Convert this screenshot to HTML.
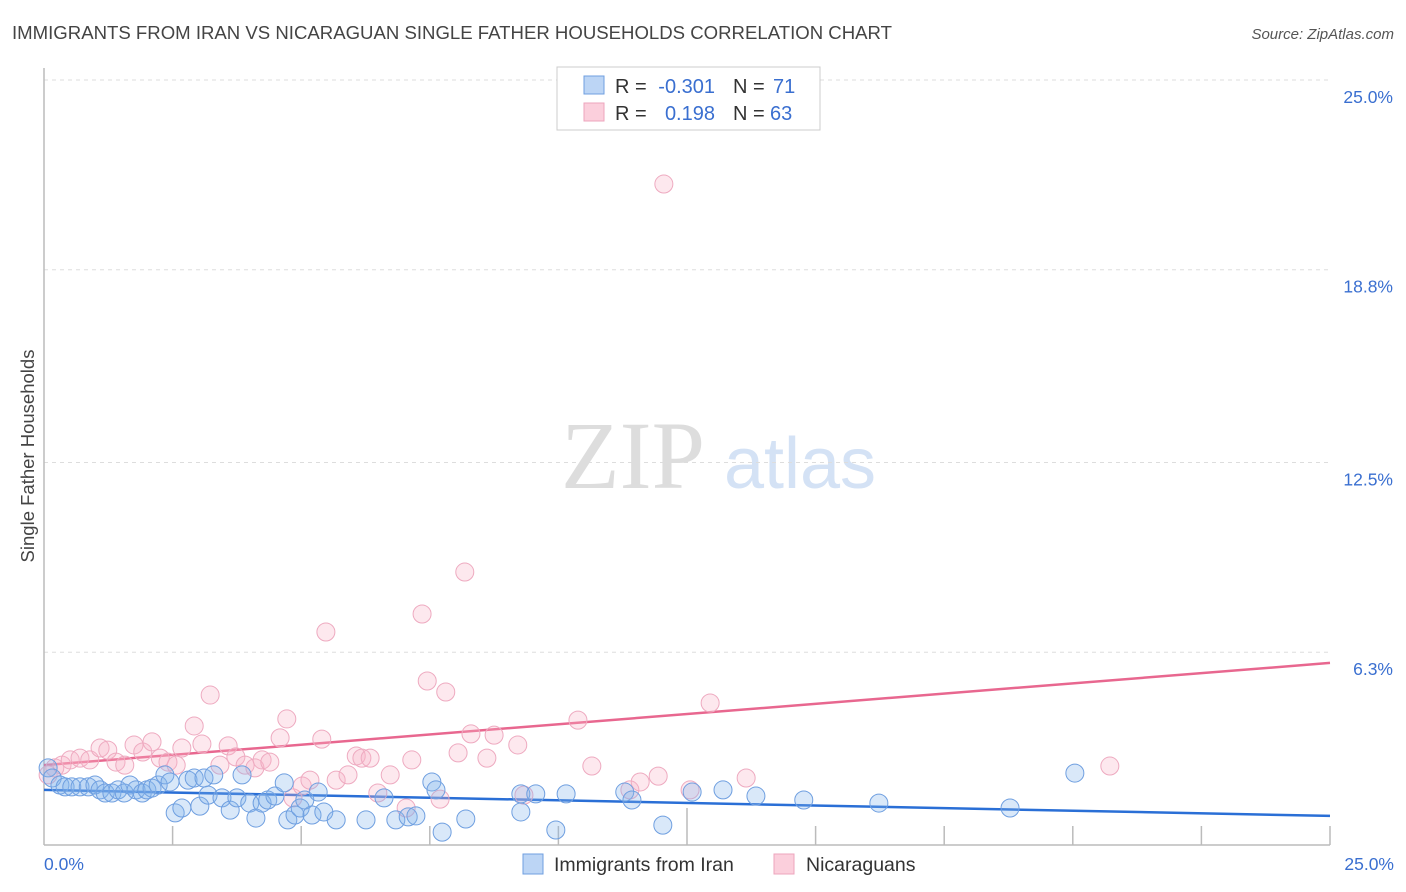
<!DOCTYPE html>
<html><head><meta charset="utf-8"><style>
body{margin:0;background:#fff;font-family:"Liberation Sans",sans-serif}
svg{display:block}
</style></head><body>
<svg width="1406" height="892" viewBox="0 0 1406 892">
<text x="12" y="39" font-size="18.6" fill="#444" textLength="880">IMMIGRANTS FROM IRAN VS NICARAGUAN SINGLE FATHER HOUSEHOLDS CORRELATION CHART</text>
<text x="1394" y="39" font-size="15" fill="#555" font-style="italic" text-anchor="end">Source: ZipAtlas.com</text>
<text transform="translate(34,456) rotate(-90)" font-size="18.5" fill="#444" text-anchor="middle">Single Father Households</text>
<g>
<text x="633" y="488" font-family="Liberation Serif,serif" font-size="96" fill="#ddd" text-anchor="middle">ZIP</text>
<text x="800" y="488" font-size="72" fill="#d4e2f5" text-anchor="middle">atlas</text>
</g>
<g id="grid"></g>
<g id="axes"></g>
<g id="lines"></g>
<g id="pts"></g>
<g>
<rect x="557" y="67" width="263" height="63" fill="#fff" stroke="#ccc"/>
<rect x="584" y="76" width="20" height="18" fill="#bcd5f5" stroke="#6f9fe0"/>
<rect x="584" y="103" width="20" height="18" fill="#fbcfdc" stroke="#eea4bd"/>
<g font-size="20" fill="#333">
<text x="615" y="93">R =</text><text x="715" y="93" text-anchor="end" fill="#3a6fd0">-0.301</text>
<text x="733" y="93">N =</text><text x="773" y="93" fill="#3a6fd0">71</text>
<text x="615" y="120">R =</text><text x="715" y="120" text-anchor="end" fill="#3a6fd0">0.198</text>
<text x="733" y="120">N =</text><text x="770" y="120" fill="#3a6fd0">63</text>
</g>
</g>
<g>
<rect x="523" y="854" width="20" height="20" fill="#bcd5f5" stroke="#6f9fe0"/>
<text x="554" y="871" font-size="19.5" fill="#333">Immigrants from Iran</text>
<rect x="774" y="854" width="20" height="20" fill="#fbcfdc" stroke="#eea4bd"/>
<text x="806" y="871" font-size="19.5" fill="#333">Nicaraguans</text>
</g>
</svg>
<script>
const yTicks=[25.0,18.8,12.5,6.3];
const yTickLabels=["25.0%","18.8%","12.5%","6.3%"];
const xLabels=["0.0%","25.0%"];
const blueX=[0.08,0.16,0.31,0.41,0.54,0.70,0.86,0.99,1.09,1.19,1.32,1.44,1.56,1.67,1.79,1.91,2.00,2.10,2.22,2.35,2.45,2.55,2.68,2.80,2.92,3.03,3.11,3.19,3.30,3.46,3.62,3.75,3.85,4.00,4.12,4.24,4.35,4.49,4.67,4.74,4.88,4.98,5.07,5.21,5.33,5.44,5.68,6.26,6.61,6.84,7.08,7.23,7.54,7.62,7.74,8.20,9.27,9.27,9.56,9.95,10.15,11.29,11.43,12.03,12.60,13.20,13.84,14.77,16.23,18.78,20.04];
const blueY=[2.52,2.19,1.96,1.90,1.90,1.90,1.90,1.96,1.80,1.70,1.70,1.80,1.70,1.96,1.80,1.70,1.80,1.86,1.96,2.29,2.06,1.05,1.21,2.12,2.19,1.27,2.19,1.63,2.29,1.54,1.14,1.54,2.29,1.37,0.88,1.37,1.47,1.60,2.03,0.82,0.98,1.21,1.47,0.98,1.73,1.08,0.82,0.82,1.54,0.82,0.92,0.95,2.06,1.80,0.42,0.85,1.08,1.67,1.67,0.49,1.67,1.73,1.47,0.65,1.73,1.80,1.60,1.47,1.37,1.21,2.35];
const pinkX=[0.08,0.21,0.35,0.51,0.70,0.89,1.09,1.24,1.40,1.57,1.75,1.92,2.10,2.26,2.41,2.57,2.68,2.92,3.07,3.23,3.42,3.58,3.73,3.91,4.10,4.24,4.39,4.59,4.72,4.84,5.02,5.17,5.40,5.48,5.68,5.91,6.07,6.18,6.34,6.49,6.73,7.04,7.15,7.35,7.45,7.70,7.81,8.05,8.18,8.30,8.61,8.75,9.21,9.33,10.38,10.65,11.39,11.59,11.94,12.05,12.56,12.95,13.65,20.72];
const pinkY=[2.29,2.52,2.61,2.78,2.84,2.78,3.17,3.10,2.71,2.61,3.27,3.04,3.37,2.84,2.71,2.61,3.17,3.89,3.30,4.90,2.61,3.24,2.88,2.61,2.52,2.78,2.71,3.50,4.12,1.54,1.93,2.12,3.46,6.96,2.12,2.29,2.91,2.84,2.84,1.70,2.29,1.21,2.78,7.55,5.36,1.50,5.00,3.01,8.92,3.63,2.84,3.59,3.27,1.63,4.08,2.58,1.80,2.06,2.25,21.60,1.80,4.64,2.19,2.58];
const blueTrend=[1.80,0.95];
const pinkTrend=[2.61,5.95];
const NS="http://www.w3.org/2000/svg";
const X0=44,X1=1330,Y0=845,Y1=80;
const sx=v=>X0+(v/25)*(X1-X0);
const sy=v=>Y0-(v/25)*(Y0-Y1);
function mk(t,a,p){const e=document.createElementNS(NS,t);for(const k in a)e.setAttribute(k,a[k]);p.appendChild(e);return e;}
const grid=document.getElementById('grid'),axes=document.getElementById('axes');
yTicks.forEach((v,i)=>{
 const l=mk('line',{x1:X0,x2:X1,y1:sy(v),y2:sy(v),stroke:'#ddd','stroke-dasharray':'4 4'},grid);
 
 
 const t=mk('text',{x:1393,y:sy(v)+23,'font-size':17.5,fill:'#3a6fd0','text-anchor':'end'},axes);
 t.textContent=yTickLabels[i];
 
 
});
const ya=mk('line',{x1:X0,x2:X0,y1:68,y2:Y0,stroke:'#bbb','stroke-width':1.5},axes);


const xa=mk('line',{x1:X0,x2:X1,y1:Y0,y2:Y0,stroke:'#bbb','stroke-width':1.5},axes);


for(let i=1;i<=10;i++){
 const x=sx(i*2.5);
 const tk=mk('line',{x1:x,x2:x,y1:Y0,y2:i==5?808:826,stroke:'#bbb','stroke-width':1.5},axes);
 
 
}
const xl0=mk('text',{x:44,y:870,'font-size':17.5,fill:'#3a6fd0'},axes);xl0.textContent=xLabels[0];


const xl1=mk('text',{x:1394,y:870,'font-size':17.5,fill:'#3a6fd0','text-anchor':'end'},axes);xl1.textContent=xLabels[1];


const pts=document.getElementById('pts');
function series(xs,ys,fill,stroke,name){xs.forEach((x,i)=>{
 const c=mk('circle',{cx:sx(x),cy:sy(ys[i]),r:9,fill:fill,stroke:stroke,'stroke-width':1},pts);
 
 
});}
series(pinkX,pinkY,'rgba(248,180,200,0.3)','#eeaac0','nicaraguans-point');
series(blueX,blueY,'rgba(130,180,235,0.3)','#6f9fe0','iran-point');
const lines=document.getElementById('lines');
const bl=mk('line',{x1:sx(0),x2:sx(25),y1:sy(blueTrend[0]),y2:sy(blueTrend[1]),stroke:'#2a6fd6','stroke-width':2.5},lines);


const pl=mk('line',{x1:sx(0),x2:sx(25),y1:sy(pinkTrend[0]),y2:sy(pinkTrend[1]),stroke:'#e8678f','stroke-width':2.5},lines);


</script>
</body></html>
